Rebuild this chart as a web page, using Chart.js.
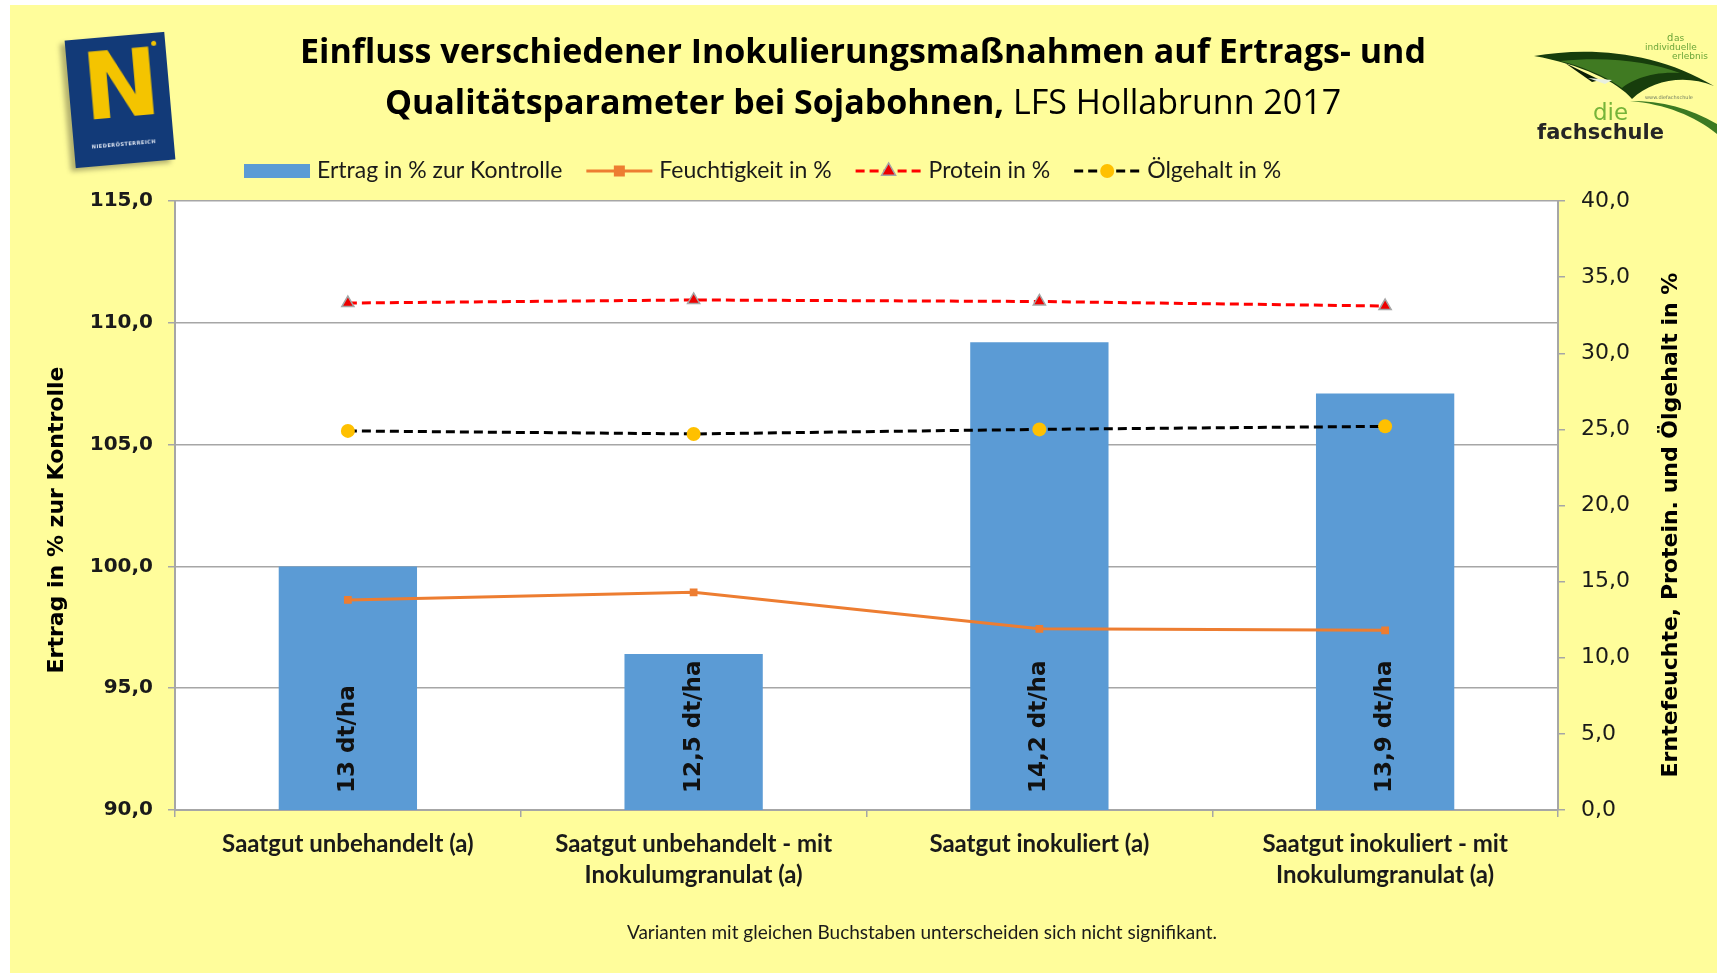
<!DOCTYPE html>
<html lang="de">
<head>
    <meta charset="UTF-8">
    <title>Einfluss verschiedener Inokulierungsmaßnahmen - Sojabohnen</title>
    <script src="https://cdn.jsdelivr.net/npm/chart.js"></script>
    <style>
        body {
            margin: 0;
            background: #ffffff;
        }
        #wrap {
            position: relative;
            width: 1717px;
            height: 973px;
            overflow: hidden;
        }
        #chartCanvas {
            position: absolute;
            left: 0;
            top: 0;
        }
        .logo-noe {
            position: absolute;
            left: 70px;
            top: 36px;
            width: 100px;
            height: 128px;
            background: #123a78;
            transform: rotate(-5deg);
            box-shadow: -5px 3px 5px rgba(0, 0, 0, 0.3);
        }
        .logo-noe .n {
            position: absolute;
            left: 14px;
            top: 4px;
            font: bold 92px "DejaVu Sans", sans-serif;
            color: #f4c400;
            line-height: 1;
        }
        .logo-noe .dot {
            position: absolute;
            right: 9px;
            top: 8px;
            width: 5px;
            height: 5px;
            border-radius: 50%;
            background: #f4c400;
        }
        .logo-noe .txt {
            position: absolute;
            left: 0;
            width: 100%;
            top: 105px;
            text-align: center;
            font: bold 5px "DejaVu Sans", sans-serif;
            letter-spacing: 0.5px;
            color: #dfe6f2;
        }
        .logo-fs {
            position: absolute;
            left: 1480px;
            top: 0;
        }
    </style>
</head>
<body>
<div id="wrap">
    <canvas id="chartCanvas" width="1717" height="973"></canvas>

    <!-- Logos -->
    <div class="logo-noe">
        <div class="n">N</div>
        <div class="dot"></div>
        <div class="txt">NIEDERÖSTERREICH</div>
    </div>
    <svg class="logo-fs" width="237" height="160" viewBox="0 0 237 160">
        <path d="M54,56 C110,46 178,52 234,86 C205,74 172,80 152,99 C138,82 100,64 54,56 Z" fill="#173d0c"/>
        <path d="M80,61 C130,56 170,62 200,73 C170,71 150,81 142,88 C122,74 100,66 80,61 Z" fill="#4f8f2a" opacity="0.75"/>
        <path d="M85,63 L120,80 L112,82 Z" fill="#0b1e06"/>
        <path d="M108,78 L132,80 L125,84 Z" fill="#e8efe0"/>
        <path d="M150,101 C185,104 215,116 237,134 L237,124 C210,108 182,101 150,101 Z" fill="#3c7a22"/>
        <text x="187" y="41" font-family="DejaVu Sans" font-size="10" fill="#6ba539">d</text>
        <text x="194" y="41" font-family="DejaVu Sans" font-size="9" fill="#6ba539">as</text>
        <text x="165" y="50" font-family="DejaVu Sans" font-size="9" fill="#6ba539">individuelle</text>
        <text x="192" y="59" font-family="DejaVu Sans" font-size="9" fill="#6ba539">erlebnis</text>
        <text x="165" y="99" font-family="DejaVu Sans" font-size="5" fill="#6d7a60">www.diefachschule</text>
        <text x="113" y="120" font-family="DejaVu Sans" font-size="23" fill="#76b43a">die</text>
        <text x="57" y="139" font-family="DejaVu Sans" font-size="21" font-weight="bold" fill="#262626">fachschule</text>
    </svg>
</div>

<script>
    // Kategorien (x-Achse)
    const categories = [
        ['Saatgut unbehandelt (a)'],
        ['Saatgut unbehandelt - mit', 'Inokulumgranulat (a)'],
        ['Saatgut inokuliert (a)'],
        ['Saatgut inokuliert - mit', 'Inokulumgranulat (a)']
    ];

    // Ertrag in % zur Kontrolle (linke Achse)
    const ertrag = [100.0, 96.4, 109.2, 107.1];
    const ertragLabels = ['13 dt/ha', '12,5 dt/ha', '14,2 dt/ha', '13,9 dt/ha'];

    // rechte Achse (%)
    const feuchtigkeit = [13.8, 14.3, 11.9, 11.8];
    const protein = [33.3, 33.5, 33.4, 33.1];
    const oelgehalt = [24.9, 24.7, 25.0, 25.2];

    const seriesNames = ['Ertrag in % zur Kontrolle', 'Feuchtigkeit in %', 'Protein in %', 'Ölgehalt in %'];

    const titleLine1 = 'Einfluss verschiedener Inokulierungsmaßnahmen auf Ertrags- und';
    const titleLine2Bold = 'Qualitätsparameter bei Sojabohnen,';
    const titleLine2 = ' LFS Hollabrunn 2017';
    const leftAxisTitle = 'Ertrag in % zur Kontrolle';
    const rightAxisTitle = 'Erntefeuchte, Protein. und Ölgehalt in %';
    const footNote = 'Varianten mit gleichen Buchstaben unterscheiden sich nicht signifikant.';

    const GRID = '#a6a6a6';
    const TEXT = '#1a1a1a';

    function fmt(v) {
        return v.toFixed(1).replace('.', ',');
    }

    // Hintergrund: gelb, Plotfläche weiß
    const backgroundPlugin = {
        id: 'background',
        beforeDraw(chart) {
            const { ctx, chartArea } = chart;
            ctx.save();
            ctx.fillStyle = '#ffffff';
            ctx.fillRect(0, 0, chart.width, chart.height);
            ctx.fillStyle = '#fffd9b';
            ctx.fillRect(10, 5, chart.width - 10, chart.height - 5);
            ctx.fillStyle = '#ffffff';
            ctx.fillRect(chartArea.left, chartArea.top, chartArea.right - chartArea.left, chartArea.bottom - chartArea.top);
            ctx.restore();
        }
    };

    // Beschriftung in den Balken (senkrecht)
    const barLabelPlugin = {
        id: 'barLabels',
        afterDatasetDraw(chart, args) {
            if (args.index !== 0) return;
            const { ctx } = chart;
            ctx.save();
            ctx.font = 'bold 23px "DejaVu Sans", sans-serif';
            ctx.fillStyle = '#111';
            ctx.textAlign = 'left';
            ctx.textBaseline = 'middle';
            args.meta.data.forEach((bar, i) => {
                ctx.save();
                ctx.translate(bar.x, chart.chartArea.bottom - 17);
                ctx.rotate(-Math.PI / 2);
                ctx.fillText(ertragLabels[i], 0, 0);
                ctx.restore();
            });
            ctx.restore();
        }
    };

    function drawMarker(ctx, style, r, cx, cy) {
        if (style === 'rect') {
            ctx.rect(cx - r, cy - r, 2 * r, 2 * r);
        } else if (style === 'triangle') {
            ctx.moveTo(cx, cy - r * 1.15);
            ctx.lineTo(cx + r, cy + r * 0.6);
            ctx.lineTo(cx - r, cy + r * 0.6);
            ctx.closePath();
        } else {
            ctx.arc(cx, cy, r, 0, Math.PI * 2);
        }
    }

    // Titel, Legende, Achsentitel, Fußnote
    const textPlugin = {
        id: 'texts',
        afterDraw(chart) {
            const { ctx } = chart;
            ctx.save();
            ctx.fillStyle = '#000';
            ctx.textBaseline = 'middle';

            // Titel
            const tf = 34;
            ctx.textAlign = 'center';
            ctx.font = `bold ${tf}px "Open Sans", sans-serif`;
            ctx.fillText(titleLine1, 863, 53);
            const bW = ctx.measureText(titleLine2Bold).width;
            ctx.font = `${tf}px "Open Sans", sans-serif`;
            const nW = ctx.measureText(titleLine2).width;
            const x0 = 863 - (bW + nW) / 2;
            ctx.textAlign = 'left';
            ctx.font = `bold ${tf}px "Open Sans", sans-serif`;
            ctx.fillText(titleLine2Bold, x0, 104);
            ctx.font = `${tf}px "Open Sans", sans-serif`;
            ctx.fillText(titleLine2, x0 + bW, 104);

            // Legende
            ctx.font = '23px Lato, sans-serif';
            let x = 244;
            const y = 171;
            chart.data.datasets.forEach((ds) => {
                const w = 66;
                if (ds.type === 'bar') {
                    ctx.fillStyle = ds.backgroundColor;
                    ctx.fillRect(x, y - 7, w, 14);
                } else {
                    ctx.save();
                    ctx.strokeStyle = ds.borderColor;
                    ctx.lineWidth = 3;
                    ctx.setLineDash(ds.borderDash || []);
                    ctx.beginPath();
                    ctx.moveTo(x, y);
                    ctx.lineTo(x + w, y);
                    ctx.stroke();
                    ctx.setLineDash([]);
                    ctx.fillStyle = ds.pointBackgroundColor;
                    ctx.strokeStyle = ds.pointBorderColor;
                    ctx.lineWidth = ds.pointBorderWidth || 0;
                    ctx.beginPath();
                    drawMarker(ctx, ds.pointStyle, ds.pointRadius, x + w / 2, y);
                    ctx.fill();
                    if (ds.pointBorderWidth) ctx.stroke();
                    ctx.restore();
                }
                ctx.fillStyle = TEXT;
                ctx.textAlign = 'left';
                ctx.fillText(ds.label, x + w + 7, y);
                x += w + 7 + ctx.measureText(ds.label).width + 24;
            });

            // Achsentitel
            ctx.font = 'bold 22px "DejaVu Sans", sans-serif';
            ctx.fillStyle = '#000';
            ctx.textAlign = 'center';
            ctx.save();
            ctx.translate(57, 520);
            ctx.rotate(-Math.PI / 2);
            ctx.fillText(leftAxisTitle, 0, 0);
            ctx.restore();
            ctx.save();
            ctx.translate(1671, 525);
            ctx.rotate(-Math.PI / 2);
            ctx.fillText(rightAxisTitle, 0, 0);
            ctx.restore();

            // Fußnote
            ctx.font = '19px Lato, sans-serif';
            ctx.fillStyle = TEXT;
            ctx.fillText(footNote, 922, 933);
            ctx.restore();
        }
    };

    const ctx = document.getElementById('chartCanvas').getContext('2d');
    new Chart(ctx, {
        data: {
            labels: categories,
            datasets: [
                {
                    type: 'bar',
                    label: seriesNames[0],
                    data: ertrag,
                    yAxisID: 'y',
                    backgroundColor: '#5b9bd5',
                    borderWidth: 0,
                    barPercentage: 0.4,
                    categoryPercentage: 1.0,
                    order: 2
                },
                {
                    type: 'line',
                    label: seriesNames[1],
                    data: feuchtigkeit,
                    yAxisID: 'y1',
                    borderColor: '#ed7d31',
                    borderWidth: 3,
                    pointStyle: 'rect',
                    pointRadius: 5.5,
                    pointBackgroundColor: '#ed7d31',
                    pointBorderColor: '#ed7d31',
                    pointBorderWidth: 0,
                    tension: 0,
                    order: 1
                },
                {
                    type: 'line',
                    label: seriesNames[2],
                    data: protein,
                    yAxisID: 'y1',
                    borderColor: '#ff0000',
                    borderWidth: 3,
                    borderDash: [9, 5],
                    pointStyle: 'triangle',
                    pointRadius: 7,
                    pointBackgroundColor: '#ee0000',
                    pointBorderColor: '#a5a5a5',
                    pointBorderWidth: 1.5,
                    order: 1
                },
                {
                    type: 'line',
                    label: seriesNames[3],
                    data: oelgehalt,
                    yAxisID: 'y1',
                    borderColor: '#000000',
                    borderWidth: 3,
                    borderDash: [9, 5],
                    pointStyle: 'circle',
                    pointRadius: 7,
                    pointBackgroundColor: '#ffc000',
                    pointBorderColor: '#ffc000',
                    pointBorderWidth: 0,
                    order: 1
                }
            ]
        },
        plugins: [backgroundPlugin, barLabelPlugin, textPlugin],
        options: {
            responsive: false,
            animation: false,
            devicePixelRatio: 1,
            layout: {
                padding: { top: 201, left: 0, right: 0, bottom: 0 }
            },
            plugins: {
                legend: { display: false },
                title: { display: false },
                tooltip: { enabled: false }
            },
            scales: {
                x: {
                    offset: true,
                    afterFit(scale) { scale.height = 163; },
                    grid: {
                        offset: true,
                        drawOnChartArea: false,
                        drawTicks: true,
                        tickLength: 7,
                        color: GRID,
                        lineWidth: 1.5
                    },
                    border: { display: true, color: GRID, width: 2 },
                    ticks: {
                        color: TEXT,
                        font: { family: 'Lato', weight: 'bold', size: 24, lineHeight: 1.28 },
                        padding: 12,
                        maxRotation: 0,
                        autoSkip: false
                    }
                },
                y: {
                    position: 'left',
                    min: 90,
                    max: 115,
                    afterFit(scale) { scale.width = 175; },
                    grid: {
                        color: GRID,
                        lineWidth: 1.5,
                        drawTicks: true,
                        tickLength: 7
                    },
                    border: { display: true, color: GRID, width: 2 },
                    ticks: {
                        stepSize: 5,
                        padding: 15,
                        color: TEXT,
                        font: { family: 'DejaVu Sans', weight: 'bold', size: 20 },
                        callback: (v) => fmt(v)
                    }
                },
                y1: {
                    position: 'right',
                    min: 0,
                    max: 40,
                    afterFit(scale) { scale.width = 159; },
                    grid: {
                        drawOnChartArea: false,
                        drawTicks: true,
                        tickLength: 7,
                        color: GRID,
                        lineWidth: 1.5
                    },
                    border: { display: true, color: GRID, width: 2 },
                    ticks: {
                        stepSize: 5,
                        padding: 16,
                        color: TEXT,
                        font: { family: 'DejaVu Sans', size: 22 },
                        callback: (v) => fmt(v)
                    }
                }
            }
        }
    });
</script>
</body>
</html>
